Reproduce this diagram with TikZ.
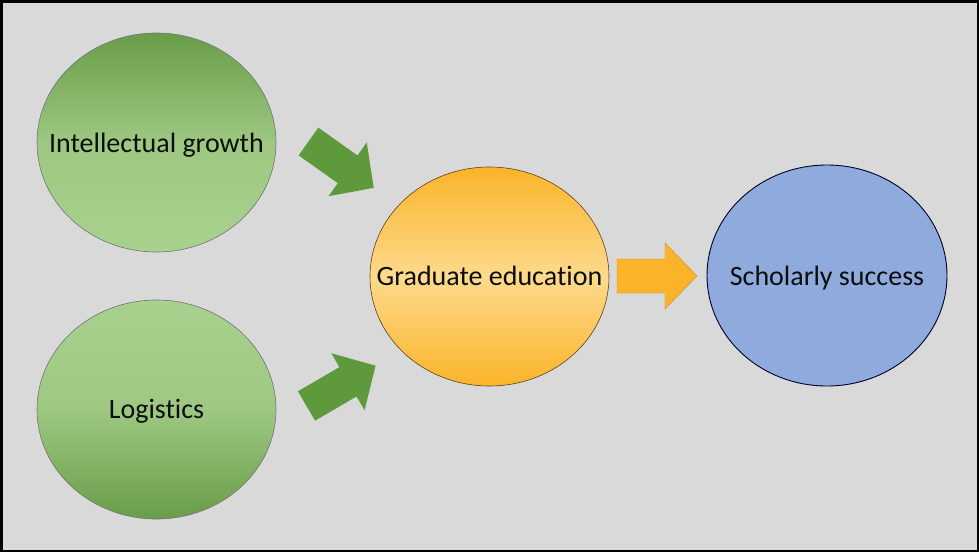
\documentclass[tikz,border=0pt]{standalone}
\usepackage{fontspec}
\setmainfont{Carlito}[Ligatures=NoCommon]
\usetikzlibrary{shapes.geometric}
\definecolor{bg}{HTML}{D9D9D9}
\definecolor{gdark}{HTML}{699D49}
\definecolor{glight}{HTML}{A9D18E}
\definecolor{odark}{HTML}{FBB42A}
\definecolor{olight}{HTML}{FDDA8C}
\definecolor{blu}{HTML}{8FAADC}
\definecolor{garrow}{HTML}{5E9A3C}
\definecolor{oarrow}{HTML}{FBB42A}
\tikzset{
  ell/.style={ellipse, minimum width=239pt, minimum height=219pt, inner sep=0pt, line width=0.6pt},
  lbl/.style={font=\fontsize{28}{32}\selectfont, text=black!95, inner sep=0pt, anchor=base},
  blockarrow/.pic={\path[pic actions] (0,-17) -- (48,-17) -- (48,-33) -- (80,0) -- (48,33) -- (48,17) -- (0,17) -- cycle;},
}
\begin{document}
\begin{tikzpicture}[x=1pt,y=-1pt]
\useasboundingbox (0,0) rectangle (979,552);
\fill[bg] (0,0) rectangle (979,552);
\draw[line width=2.5pt] (1.25,1.25) rectangle (977.75,550.75);

\node[ell, draw=black!55, top color=gdark, bottom color=glight, middle color=glight!82!gdark] (ig) at (156.5,142.5) {};
\node[lbl, yshift=-10pt] (igt) at (ig.center) {Intellectual growth};

\node[ell, draw=black!55, top color=glight, bottom color=gdark, middle color=glight!82!gdark] (lo) at (156.5,409.5) {};
\node[lbl, yshift=-9pt] (lot) at (lo.center) {Logistics};

\node[ell, draw=black!50!brown, top color=odark, bottom color=odark, middle color=olight] (ge) at (489.5,276.5) {};
\node[lbl, yshift=-9pt] (get) at (ge.center) {Graduate education};

\node[ell, draw=black!85!blue, line width=0.9pt, fill=blu, minimum width=240pt, minimum height=221pt] (ss) at (827,275.5) {};
\node[lbl, yshift=-9.5pt] (sst) at (ss.center) {Scholarly success};

\coordinate (a1) at (308.5,141.5);
\coordinate (a2) at (306.5,406);
\coordinate (a3) at (617,276);
\pic[rotate=-35.4, fill=garrow] (arr1) at (a1) {blockarrow};
\pic[rotate=30.3, fill=garrow] (arr2) at (a2) {blockarrow};
\pic[fill=oarrow, draw=oarrow!80!black, line width=0.4pt] (arr3) at (a3) {blockarrow};
\end{tikzpicture}
\end{document}
